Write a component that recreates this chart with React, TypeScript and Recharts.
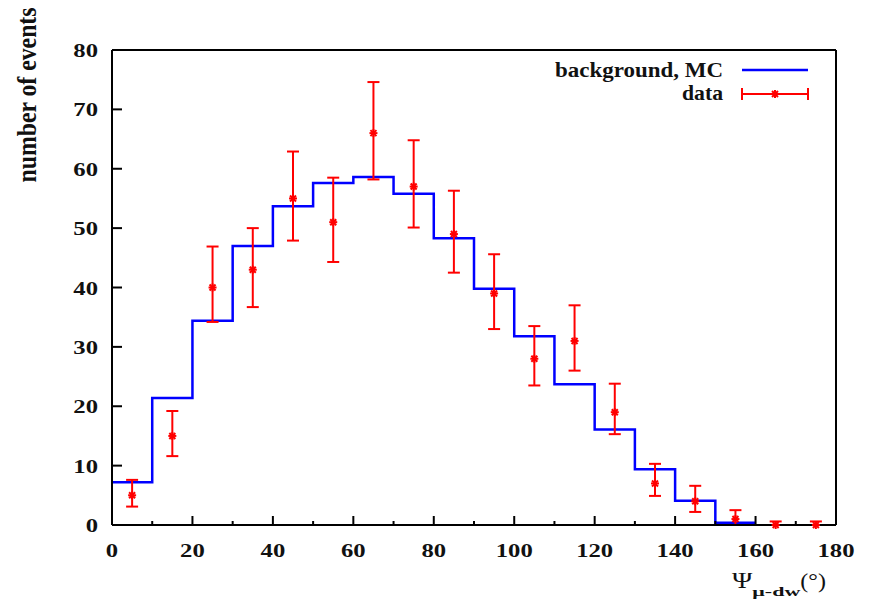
import { ComposedChart, Line, Scatter, ErrorBar, XAxis, YAxis } from "recharts";

const FONT = '"Liberation Serif", "Times New Roman", serif';

// MC background histogram, bins of 10 deg starting at 0
const mcBinStart = [0, 10, 20, 30, 40, 50, 60, 70, 80, 90, 100, 110, 120, 130, 140, 150];
const mcCounts = [7.2, 21.4, 34.4, 47.0, 53.7, 57.6, 58.6, 55.8, 48.3, 39.8, 31.8, 23.7, 16.1, 9.4, 4.1, 0.4];

// data points at bin centres
const dataX = [5, 15, 25, 35, 45, 55, 65, 75, 85, 95, 105, 115, 125, 135, 145, 155, 165, 175];
const dataY = [5, 15, 40, 43, 55, 51, 66, 57, 49, 39, 28, 31, 19, 7, 4, 1, 0, 0];
const errLow = [1.9, 3.4, 5.8, 6.3, 7.1, 6.7, 7.8, 6.9, 6.5, 6.0, 4.5, 5.0, 3.7, 2.1, 1.8, 1.0, 0, 0];
const errHigh = [2.6, 4.2, 6.9, 7.0, 7.9, 7.5, 8.6, 7.8, 7.3, 6.6, 5.5, 6.0, 4.8, 3.3, 2.6, 1.5, 0.6, 0.6];

const xTicks = [0, 10, 20, 30, 40, 50, 60, 70, 80, 90, 100, 110, 120, 130, 140, 150, 160, 170, 180];
const yTicks = [0, 10, 20, 30, 40, 50, 60, 70, 80];

const mcData = [
  ...mcBinStart.map((x, i) => ({ x, mc: mcCounts[i] })),
  { x: 160, mc: mcCounts[mcCounts.length - 1] },
];
const pointData = dataX.map((x, i) => ({ x, y: dataY[i], err: [errLow[i], errHigh[i]] }));

const labelStyle = { fontFamily: FONT, fontWeight: 700, fontSize: 19, fill: "#111" };

const BottomTick = ({ x, y, payload }: any) => {
  const v = payload.value;
  const major = v % 20 === 0;
  return (
    <g>
      <line x1={x} y1={y} x2={x} y2={y - (major ? 9 : 4)} stroke="#000" strokeWidth={2} />
      {major && (
        <text transform={`translate(${x},${y + 32}) scale(1.3,1)`} textAnchor="middle" {...labelStyle}>
          {v}
        </text>
      )}
    </g>
  );
};

const TopTick = ({ x, y }: any) => (
  <line x1={x} y1={y} x2={x} y2={y + 7} stroke="#000" strokeWidth={2} />
);

const LeftTick = ({ x, y, payload }: any) => (
  <g>
    <line x1={x} y1={y} x2={x + 10} y2={y} stroke="#000" strokeWidth={2} />
    <text transform={`translate(${x - 14},${y + 7}) scale(1.3,1)`} textAnchor="end" {...labelStyle}>
      {payload.value}
    </text>
  </g>
);

const RightTick = ({ x, y }: any) => (
  <line x1={x} y1={y} x2={x - 8} y2={y} stroke="#000" strokeWidth={2} />
);

const YTitle = () => (
  <text
    transform="translate(36,95) scale(1.1,1) rotate(-90)"
    textAnchor="middle"
    textLength={175}
    lengthAdjust="spacingAndGlyphs"
    {...labelStyle}
    fontSize={24}
  >
    number of events
  </text>
);

const XTitle = () => (
  <text transform="translate(732,588) scale(1.2,1)" fontFamily={FONT} fill="#111" fontSize={23}>
    Ψ
    <tspan dy={8} fontSize={13} fontWeight={700} textLength={40} lengthAdjust="spacingAndGlyphs">
      μ-dw
    </tspan>
    <tspan dy={-8} fontSize={20}>(°)</tspan>
  </text>
);

const Star = ({ cx, cy }: any) => (
  <g stroke="#ff0000" strokeWidth={2}>
    <line x1={cx - 4} y1={cy} x2={cx + 4} y2={cy} />
    <line x1={cx - 3} y1={cy - 3} x2={cx + 3} y2={cy + 3} />
    <line x1={cx - 3} y1={cy + 3} x2={cx + 3} y2={cy - 3} />
    <line x1={cx} y1={cy - 4} x2={cx} y2={cy + 4} />
  </g>
);

const LegendBox = () => (
  <g>
    <text x={723} y={77} textAnchor="end" textLength={168} lengthAdjust="spacingAndGlyphs" {...labelStyle} fontSize={22}>
      background, MC
    </text>
    <line x1={742} y1={70} x2={808} y2={70} stroke="#0000ff" strokeWidth={2.5} />
    <text x={723} y={100} textAnchor="end" textLength={41} lengthAdjust="spacingAndGlyphs" {...labelStyle} fontSize={22}>
      data
    </text>
    <line x1={742} y1={94} x2={808} y2={94} stroke="#ff0000" strokeWidth={2} />
    <line x1={742} y1={88} x2={742} y2={100} stroke="#ff0000" strokeWidth={2} />
    <line x1={808} y1={88} x2={808} y2={100} stroke="#ff0000" strokeWidth={2} />
    <Star cx={775} cy={94} />
  </g>
);

export default function App() {
  return (
    <div style={{ position: "absolute", left: 0, top: 0, background: "#fff" }}>
      <ComposedChart width={875} height={608} margin={{ top: 49, right: 38, bottom: 0, left: 0 }}>
        <XAxis
          dataKey="x"
          type="number"
          domain={[0, 180]}
          ticks={xTicks}
          interval={0}
          height={83}
          tickSize={0}
          tickMargin={0}
          tickLine={false}
          tick={<BottomTick />}
          axisLine={{ stroke: "#000", strokeWidth: 2 }}
          label={<XTitle />}
        />
        <XAxis
          xAxisId="top"
          orientation="top"
          type="number"
          domain={[0, 180]}
          ticks={xTicks}
          interval={0}
          height={1}
          tickSize={0}
          tickMargin={0}
          tickLine={false}
          tick={<TopTick />}
          axisLine={{ stroke: "#000", strokeWidth: 2 }}
        />
        <YAxis
          type="number"
          domain={[0, 80]}
          ticks={yTicks}
          interval={0}
          width={112}
          tickSize={0}
          tickMargin={0}
          tickLine={false}
          tick={<LeftTick />}
          axisLine={{ stroke: "#000", strokeWidth: 2 }}
          label={<YTitle />}
        />
        <YAxis
          yAxisId="right"
          orientation="right"
          type="number"
          domain={[0, 80]}
          ticks={yTicks}
          interval={0}
          width={1}
          tickSize={0}
          tickMargin={0}
          tickLine={false}
          tick={<RightTick />}
          axisLine={{ stroke: "#000", strokeWidth: 2 }}
          label={<LegendBox />}
        />
        <Line
          data={mcData}
          dataKey="mc"
          type="stepAfter"
          stroke="#0000ff"
          strokeWidth={2.5}
          dot={false}
          isAnimationActive={false}
        />
        <Scatter
          data={pointData}
          dataKey="y"
          fill="#ff0000"
          shape={(p: any) => <Star cx={p.cx} cy={p.cy} />}
          isAnimationActive={false}
        >
          <ErrorBar dataKey="err" direction="y" width={6} stroke="#ff0000" strokeWidth={2} />
        </Scatter>
      </ComposedChart>
    </div>
  );
}
